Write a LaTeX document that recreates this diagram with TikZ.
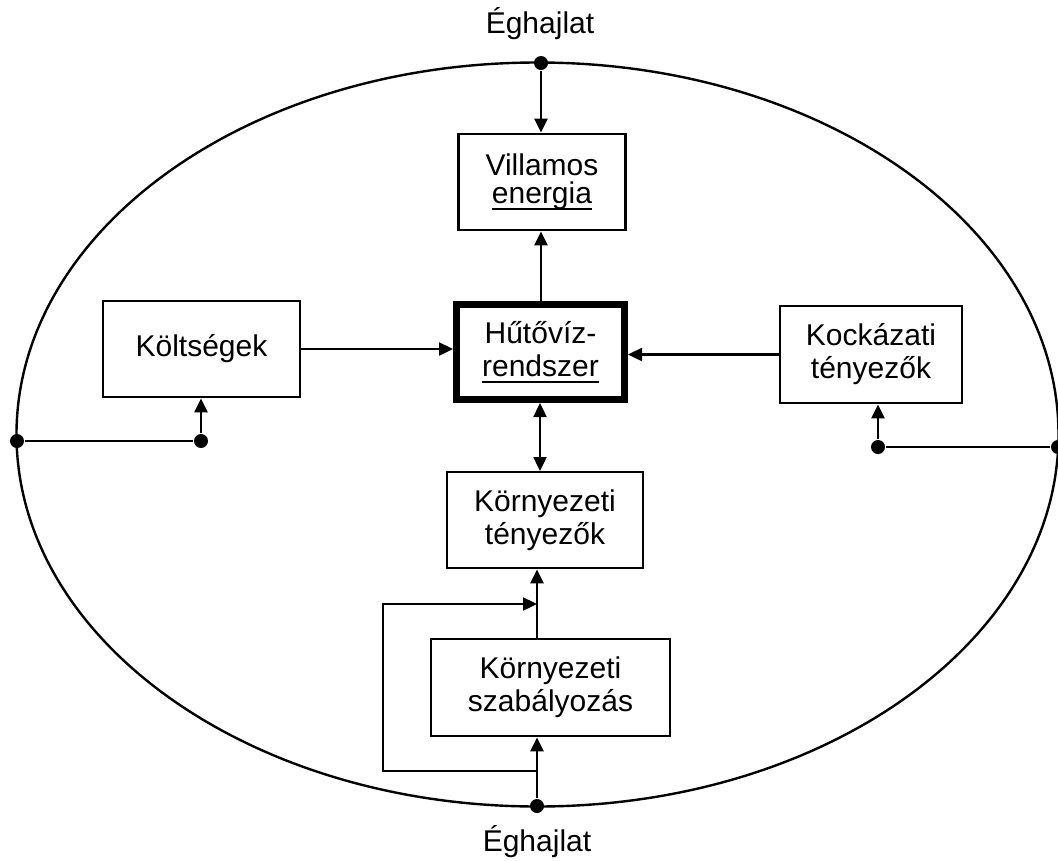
\documentclass[tikz,border=0pt]{standalone}
\usepackage{fontspec}
\setmainfont{Liberation Sans}
\usetikzlibrary{arrows.meta,calc}
\newcommand{\ulx}[1]{\setbox0\hbox{#1}\rlap{\rule[-6pt]{\wd0}{1.3pt}}\box0}
\begin{document}
\begin{tikzpicture}[x=1pt,y=-1pt, line width=2.4pt,
  box/.style={draw, line width=2.8pt, align=center, font=\fontsize{30}{33}\selectfont, inner sep=0pt},
  lbl/.style={font=\fontsize{30}{33}\selectfont, inner sep=0pt},
  arr/.style={-{Triangle[length=14pt,width=13pt]}},
  darr/.style={{Triangle[length=14pt,width=13pt]}-{Triangle[length=14pt,width=13pt]}},
  dot/.style={circle, fill, inner sep=0pt, minimum size=14pt}]
\useasboundingbox (0,0) rectangle (1058,860);
\draw (537.5,434.5) ellipse [x radius=521pt, y radius=372pt];

\node[lbl] (egtop) at (540,24) {Éghajlat};
\node[lbl] (egbot) at (537,842) {Éghajlat};

\node[box, font=\fontsize{30}{28}\selectfont, minimum width=167pt, minimum height=96pt] (vill) at (542,182) {Villamos\\\ulx{energia}};
\node[box, line width=7pt, minimum width=168pt, minimum height=95pt] (hu) at (540.5,352) {Hűtővíz-\\\ulx{rendszer}};
\node[box, minimum width=197pt, minimum height=96pt] (ko) at (201.5,349) {Költségek};
\node[box, minimum width=182pt, minimum height=97pt] (kk) at (871,354.5) {Kockázati\\tényezők};
\node[box, minimum width=196pt, minimum height=96pt] (tk) at (545,520) {Környezeti\\tényezők};
\node[box, minimum width=239pt, minimum height=97pt] (sz) at (550.5,687.5) {Környezeti\\szabályozás};

\node[dot] (dtop) at (541,63) {};
\node[dot] (dbot) at (537,806) {};
\node[dot] (dl) at (17,441) {};
\node[dot] (dl2) at (201,441) {};
\node[dot] (dr) at (1058,447) {};
\node[dot] (dr2) at (878,447) {};
\coordinate (lp1) at (537,771);
\coordinate (lp2) at (383,771);
\coordinate (lp3) at (383,604);
\coordinate (lp4) at (537,604);

\draw[arr] (dtop) -- (dtop |- vill.north);
\draw[arr] (hu.north -| dtop) -- (vill.south -| dtop);
\draw[arr] (ko.east) -- (ko.east -| hu.west);
\draw[arr] (kk.west) -- (kk.west -| hu.east);
\draw[darr] (540,403) -- (540,471);
\draw (dl) -- (dl2);
\draw[arr] (dl2) -- (dl2 |- ko.south);
\draw (dr) -- (dr2);
\draw[arr] (dr2) -- (dr2 |- kk.south);
\draw[arr] (dbot) -- (dbot |- sz.south);
\draw[arr] (sz.north -| dbot) -- (tk.south -| dbot);
\draw[arr] (lp1) -- (lp2) -- (lp3) -- (lp4);
\end{tikzpicture}
\end{document}
